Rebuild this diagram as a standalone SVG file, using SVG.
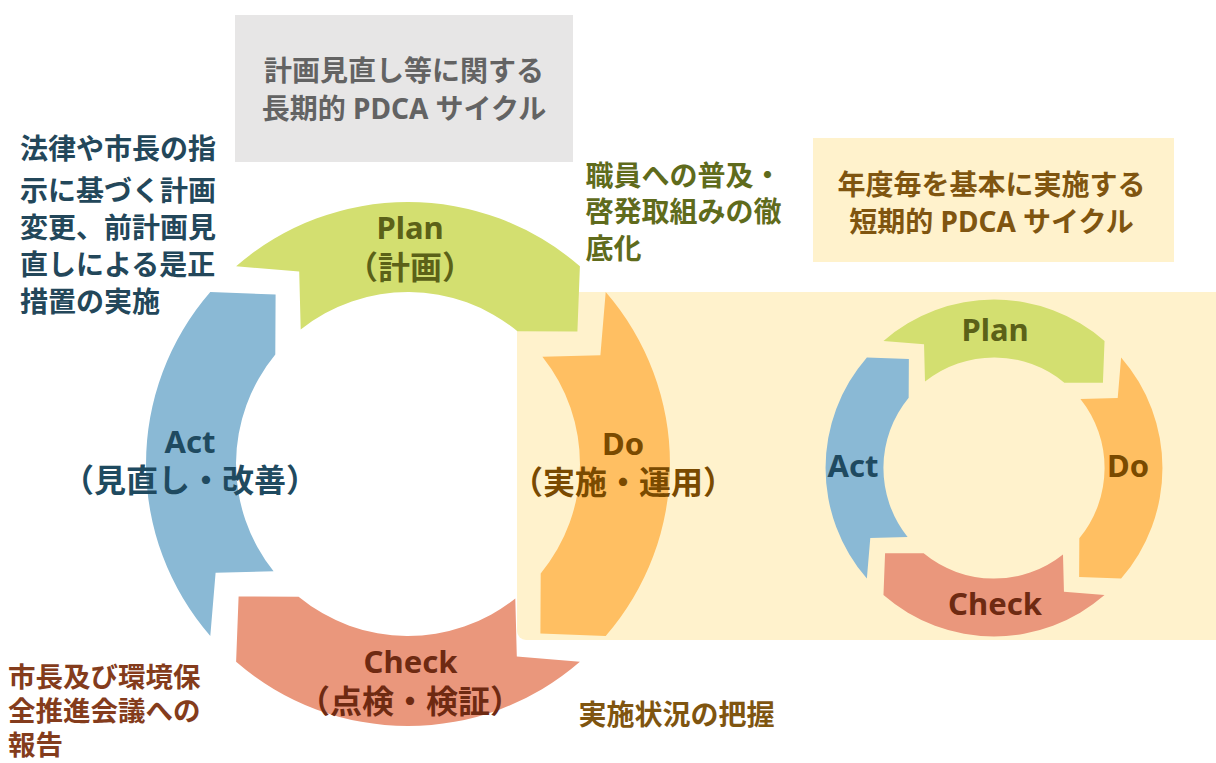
<svg xmlns="http://www.w3.org/2000/svg" width="1216" height="763" viewBox="0 0 1216 763">
<style>
text { font-family: "Noto Sans", "Noto Sans CJK JP", sans-serif; font-weight: bold; }
.body { font-size: 28px; }
.small { font-size: 27.5px; }
.mid { text-anchor: middle; }
.lbl { font-size: 31px; text-anchor: middle; }
.lblj { font-size: 32px; text-anchor: middle; }
.plan { fill: #D3DF70; }
.do { fill: #FFBF62; }
.check { fill: #EA977C; }
.act { fill: #8AB9D5; }
.tplan { fill: #5B6118; }
.tdo { fill: #7A4A00; }
.tcheck { fill: #6E2A12; }
.tact { fill: #1F4A60; }
</style>
<defs>
<path id="seg" d="M197.7,-171.9 L192.4,-108.8 L134.4,-107.3 A172,172 0 0 1 132.7,109.4 L132.4,169.4 L197.7,171.9 A262,262 0 0 0 197.7,-171.9 Z"/>
</defs>
<rect x="0" y="0" width="1216" height="763" fill="#FFFFFF"/>

<g id="long-term-title">
<rect x="235" y="15" width="338" height="147" fill="#E7E6E6"/>
<text class="body mid" x="404" y="80.6" fill="#636363">計画見直し等に関する</text>
<text class="body mid" x="404" y="118.7" fill="#636363">長期的 PDCA サイクル</text>
</g>

<g id="short-term-panel">
<rect x="517" y="292" width="720" height="348" rx="9" fill="#FFF2CC"/>
</g>

<g id="short-term-title">
<rect x="813" y="138" width="361" height="124" fill="#FFF2CC"/>
<text class="body mid" x="991.5" y="194.6" fill="#7F5510">年度毎を基本に実施する</text>
<text class="body mid" x="991.5" y="231.6" fill="#7F5510">短期的 PDCA サイクル</text>
</g>

<g id="note-act">
<text class="body" x="20" y="158.5" fill="#23475A">法律や市長の指</text>
<text class="body" x="20" y="201" fill="#23475A">示に基づく計画</text>
<text class="body" x="20" y="238" fill="#23475A">変更、前計画見</text>
<text class="body" x="20" y="274.5" fill="#23475A">直しによる是正</text>
<text class="body" x="20" y="311.5" fill="#23475A">措置の実施</text>
</g>

<g id="note-plan">
<text class="body" x="585.5" y="185.6" fill="#5F6B1C">職員への普及・</text>
<text class="body" x="585.5" y="222.3" fill="#5F6B1C">啓発取組みの徹</text>
<text class="body" x="585.5" y="259" fill="#5F6B1C">底化</text>
</g>

<g id="note-check">
<text class="small" x="8" y="687" fill="#843C1C">市長及び環境保</text>
<text class="small" x="8" y="721" fill="#843C1C">全推進会議への</text>
<text class="small" x="8" y="755" fill="#843C1C">報告</text>
</g>

<g id="note-do">
<text class="body" x="578.5" y="724.6" fill="#7F5510">実施状況の把握</text>
</g>

<g id="long-plan">
<use href="#seg" class="plan" transform="translate(408,464) rotate(-90)"/>
<text class="lbl tplan" x="410" y="238.5">Plan</text>
<text class="lblj tplan" x="410" y="278.5">（計画）</text>
</g>
<g id="long-do">
<use href="#seg" class="do" transform="translate(408,464)"/>
<text class="lbl tdo" x="623" y="454.5">Do</text>
<text class="lblj tdo" x="623" y="494">（実施・運用）</text>
</g>
<g id="long-check">
<use href="#seg" class="check" transform="translate(408,464) rotate(90)"/>
<text class="lbl tcheck" x="410.5" y="672.5">Check</text>
<text class="lblj tcheck" x="410" y="712.5">（点検・検証）</text>
</g>
<g id="long-act">
<use href="#seg" class="act" transform="translate(408,464) rotate(180)"/>
<text class="lbl tact" x="190" y="452.5">Act</text>
<text class="lblj tact" x="190" y="492">（見直し・改善）</text>
</g>

<g id="short-plan">
<use href="#seg" class="plan" transform="translate(994,468) scale(0.643) rotate(-90)"/>
<text class="lbl tplan" x="995" y="341">Plan</text>
</g>
<g id="short-do">
<use href="#seg" class="do" transform="translate(994,468) scale(0.643)"/>
<text class="lbl tdo" x="1128" y="477">Do</text>
</g>
<g id="short-check">
<use href="#seg" class="check" transform="translate(994,468) scale(0.643) rotate(90)"/>
<text class="lbl tcheck" x="995" y="615">Check</text>
</g>
<g id="short-act">
<use href="#seg" class="act" transform="translate(994,468) scale(0.643) rotate(180)"/>
<text class="lbl tact" x="853" y="477">Act</text>
</g>

<g id="connectors"></g>
</svg>
